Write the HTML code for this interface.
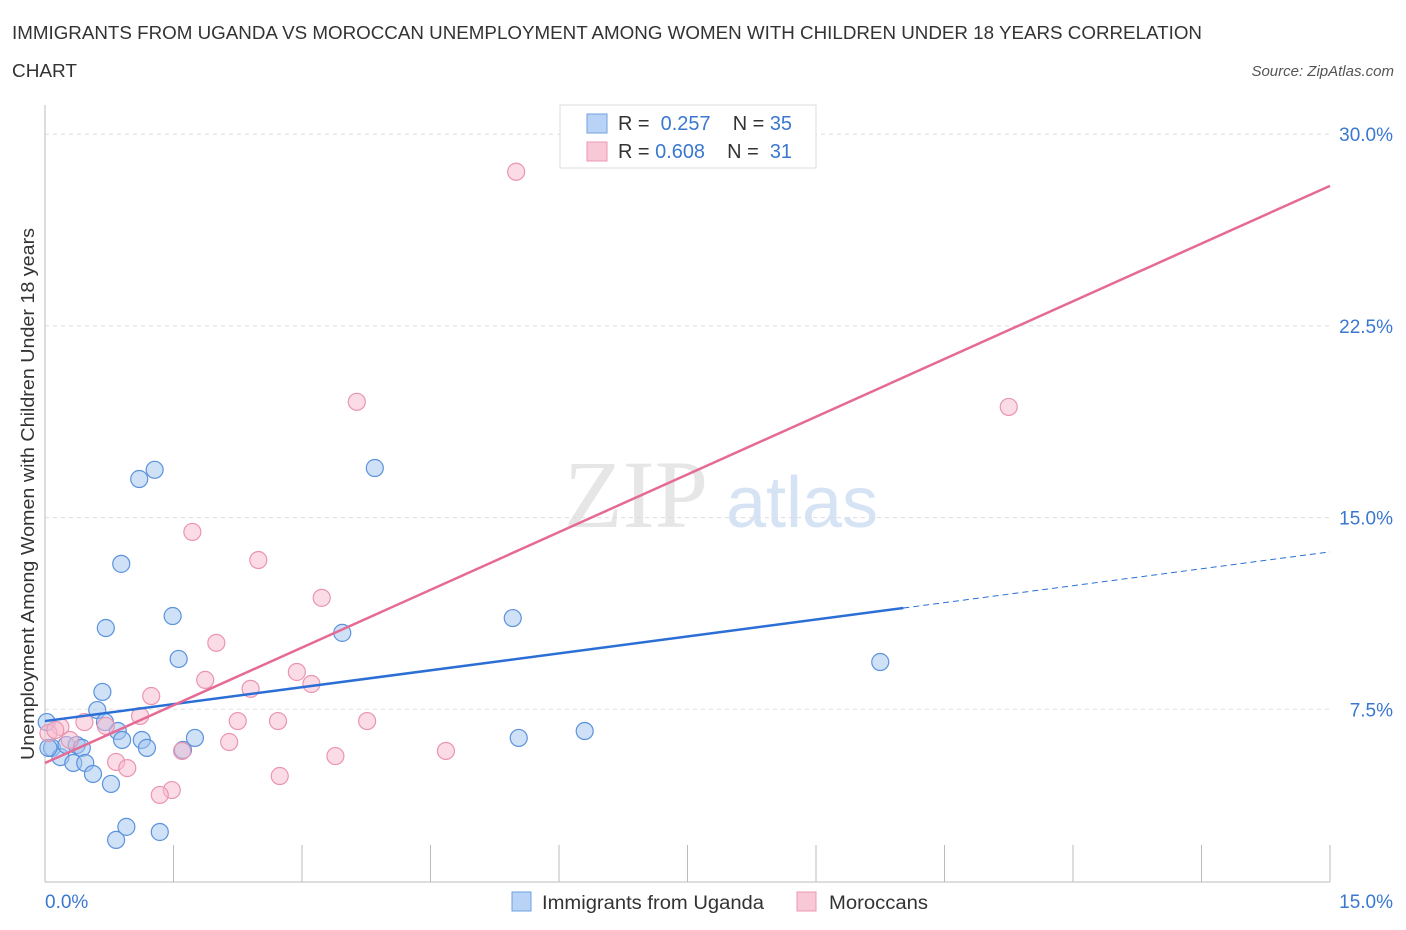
<!DOCTYPE html>
<html><head><meta charset="utf-8"><style>
body{margin:0;background:#fff;font-family:"Liberation Sans",sans-serif;}
#wrap{position:relative;width:1406px;height:930px;overflow:hidden}
</style></head><body>
<div id="wrap">
<svg id="chart" width="1406" height="930">
<text x="12" y="39" font-size="18" fill="#333" textLength="1190" lengthAdjust="spacingAndGlyphs">IMMIGRANTS FROM UGANDA VS MOROCCAN UNEMPLOYMENT AMONG WOMEN WITH CHILDREN UNDER 18 YEARS CORRELATION</text>
<text x="12" y="77" font-size="18" fill="#333" textLength="65" lengthAdjust="spacingAndGlyphs">CHART</text>
<text x="1394" y="76" font-size="15" fill="#555" font-style="italic" text-anchor="end">Source: ZipAtlas.com</text>
<text x="636" y="527" font-size="96" fill="#e6e6e6" font-family="Liberation Serif,serif" text-anchor="middle">ZIP</text>
<text x="802" y="527" font-size="72" fill="#d5e3f5" text-anchor="middle">atlas</text>
<text transform="translate(34,494) rotate(-90)" font-size="18" fill="#333" text-anchor="middle" textLength="532" lengthAdjust="spacingAndGlyphs">Unemployment Among Women with Children Under 18 years</text>
<g id="grid"></g><g id="axes"></g><g id="pts"></g><g id="lines"></g>
<g>
<rect x="560" y="105" width="256" height="63" fill="#fff" stroke="#ddd"/>
<rect x="587" y="114" width="20" height="19" fill="#b8d3f5" stroke="#6fa0e0"/>
<rect x="587" y="142" width="20" height="19" fill="#f9c8d6" stroke="#eb98b2"/>
<text x="618" y="130" font-size="20" fill="#333" textLength="174" lengthAdjust="spacingAndGlyphs">R = <tspan fill="#3a78d0">&#160;0.257</tspan>&#160;&#160;&#160;&#160;N = <tspan fill="#3a78d0">35</tspan></text>
<text x="618" y="158" font-size="20" fill="#333" textLength="174" lengthAdjust="spacingAndGlyphs">R = <tspan fill="#3a78d0">0.608</tspan>&#160;&#160;&#160;&#160;N = <tspan fill="#3a78d0">&#160;31</tspan></text>
</g>
<g>
<rect x="512" y="892" width="19" height="19" fill="#b8d3f5" stroke="#6fa0e0"/>
<text x="542" y="909" font-size="19" fill="#333" textLength="222" lengthAdjust="spacingAndGlyphs">Immigrants from Uganda</text>
<rect x="797" y="892" width="19" height="19" fill="#f9c8d6" stroke="#eb98b2"/>
<text x="829" y="909" font-size="19" fill="#333" textLength="99" lengthAdjust="spacingAndGlyphs">Moroccans</text>
</g>
</svg></div>
<script>
const ugX=[0.02,0.08,0.18,0.25,0.33,0.37,0.43,0.47,0.56,0.61,0.67,0.71,0.77,0.83,0.85,0.89,0.90,0.95,1.10,1.13,1.19,1.28,1.34,1.49,1.56,1.61,1.75,3.47,3.85,5.46,5.53,6.30,9.75,0.04,0.70];
const ugY=[7.00,5.99,5.63,6.10,5.40,6.10,5.99,5.40,4.97,7.47,8.18,10.68,4.58,2.39,6.65,13.19,6.30,2.90,16.51,6.30,5.99,16.87,2.70,11.15,9.47,5.91,6.38,10.49,16.94,11.07,6.38,6.65,9.35,5.99,7.00];
const moX=[5.50,3.64,11.25,1.72,2.49,3.23,2.00,2.94,1.87,3.11,2.40,1.24,1.11,2.25,2.72,3.76,0.46,0.71,0.18,0.04,2.15,0.29,1.60,4.68,3.39,0.83,0.96,2.74,1.48,1.34,0.12];
const moY=[28.53,19.53,19.33,14.44,13.34,11.86,10.10,8.96,8.65,8.49,8.30,8.02,7.24,7.04,7.04,7.04,7.00,6.85,6.81,6.57,6.22,6.30,5.87,5.87,5.67,5.44,5.20,4.89,4.34,4.15,6.69];
const yTicks=[7.5,15.0,22.5,30.0];
const xTickLabels=["0.0%","15.0%"];
const ugTrend=[7.04,13.66]; // y at x=0 and x=15
const moTrend=[5.40,27.98];
const ugSolidEnd=10.02;
const NS="http://www.w3.org/2000/svg";
const X=v=>45+v/15*1285, Y=v=>901-v/7.5*191.7;
function mk(t,a,p){const e=document.createElementNS(NS,t);for(const k in a)e.setAttribute(k,a[k]);p.appendChild(e);return e;}
const grid=document.getElementById('grid'),axes=document.getElementById('axes');
yTicks.forEach(t=>{
 const l=mk('line',{x1:45,x2:1330,y1:Y(t),y2:Y(t),stroke:'#ddd','stroke-dasharray':'4,4'},grid);
 
 
 const tx=mk('text',{x:1393,y:Y(t)+7,'font-size':19,fill:'#3a78d0','text-anchor':'end'},axes);
 tx.textContent=t.toFixed(1)+'%';
 
 
});
mk('line',{x1:45,x2:45,y1:105,y2:882,stroke:'#bbb'},axes);
mk('line',{x1:45,x2:1330,y1:882,y2:882,stroke:'#bbb'},axes);
for(let i=1;i<=10;i++){const x=45+i*128.5;const l=mk('line',{x1:x,x2:x,y1:845,y2:882,stroke:'#bbb'},axes);}
const xl0=mk('text',{x:45,y:908,'font-size':19,fill:'#3a78d0'},axes);xl0.textContent=xTickLabels[0];


const xl1=mk('text',{x:1393,y:908,'font-size':19,fill:'#3a78d0','text-anchor':'end'},axes);xl1.textContent=xTickLabels[1];


const pts=document.getElementById('pts');
ugX.forEach((x,i)=>{const c=mk('circle',{cx:X(x),cy:Y(ugY[i]),r:8.5,fill:'rgba(160,195,240,0.5)',stroke:'#5b92dc','stroke-width':1.2},pts);
 
 });
moX.forEach((x,i)=>{const c=mk('circle',{cx:X(x),cy:Y(moY[i]),r:8.5,fill:'rgba(248,185,205,0.5)',stroke:'#ea95b0','stroke-width':1.2},pts);
 
 });
const lines=document.getElementById('lines');
const ua=ugTrend[0],ub=(ugTrend[1]-ugTrend[0])/15;
const l1=mk('line',{x1:X(0),y1:Y(ua),x2:X(ugSolidEnd),y2:Y(ua+ub*ugSolidEnd),stroke:'#2b6fd6','stroke-width':2.5},lines);


const l2=mk('line',{x1:X(ugSolidEnd),y1:Y(ua+ub*ugSolidEnd),x2:X(15),y2:Y(ugTrend[1]),stroke:'#2b6fd6','stroke-width':1,'stroke-dasharray':'6,4'},lines);


const l3=mk('line',{x1:X(0),y1:Y(moTrend[0]),x2:X(15),y2:Y(moTrend[1]),stroke:'#e56a95','stroke-width':2.5},lines);


</script>
</body></html>
